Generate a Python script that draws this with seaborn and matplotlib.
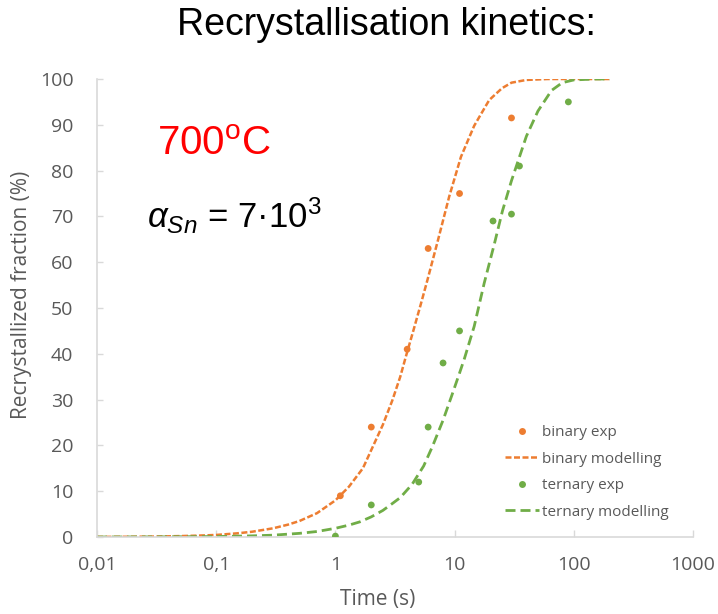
import numpy as np
import pandas as pd
import matplotlib
matplotlib.use("Agg")
import matplotlib.pyplot as plt
import seaborn as sns
from matplotlib.lines import Line2D
from matplotlib.ticker import FixedLocator, FixedFormatter, NullLocator

binary_t = [1.1, 2, 4, 6, 11, 30]
binary_y = [9, 24, 41, 63, 75, 91.5]
ternary_t = [1, 2, 5, 6, 8, 11, 21, 30, 35, 90]
ternary_y = [0.2, 7, 12, 24, 38, 45, 69, 70.5, 81, 95]

# modelling curves, points
binary_model_t = [0.01, 0.02, 0.03, 0.05, 0.07, 0.1, 0.15, 0.2, 0.3, 0.4, 0.5, 0.7, 1,
                  1.3, 1.7, 2, 2.5, 3, 3.5, 3.9, 4.5, 5.2, 5.9, 7.2, 9, 11.3, 14.6,
                  19.5, 25, 30, 40, 60, 100, 200]
binary_model_y = [0.02, 0.06, 0.1, 0.2, 0.3, 0.45, 0.8, 1.15, 1.9, 2.7, 3.5, 5.2, 8,
                  11, 15, 19, 24.5, 29.8, 35, 39.4, 45, 50.8, 56, 64.5, 74.3, 83, 89.8,
                  95.4, 98, 99.2, 99.8, 100, 100, 100]
ternary_model_t = [0.01, 0.03, 0.1, 0.2, 0.3, 0.5, 0.7, 1, 1.3, 1.6, 2, 2.5, 3, 3.5,
                   4.4, 5.5, 6.5, 8, 9.5, 11, 12.1, 14.6, 17.7, 21.6, 25.2, 30, 35, 40,
                   50, 65, 80, 100, 150, 200]
ternary_model_y = [0, 0.02, 0.1, 0.25, 0.4, 0.8, 1.2, 1.9, 2.6, 3.3, 4.4, 5.8, 7.3, 8.6,
                   11.5, 15.5, 19.7, 25.5, 31, 35.8, 39, 46, 55.4, 64.1, 71.2, 77.8, 83,
                   87.5, 93, 97.5, 99.2, 99.8, 100, 100]

x_ticks = [0.01, 0.1, 1, 10, 100, 1000]
x_ticklabels = ["0,01", "0,1", "1", "10", "100", "1000"]
y_ticks = list(range(0, 101, 10))

orange = "#ED7D31"
green = "#70AD47"
grey_txt = "#595959"
grey_ax = "#D9D9D9"

sns.set_theme(style="white")
plt.rcParams['font.family'] = ['Open Sans', 'DejaVu Sans']
plt.rcParams['mathtext.fontset'] = 'custom'
plt.rcParams['mathtext.rm'] = 'Liberation Sans'
plt.rcParams['mathtext.it'] = 'Liberation Sans:italic'

fig = plt.figure(figsize=(7.18, 6.14), dpi=100)
ax = fig.add_axes([0.1351, 0.1254, 0.8301, 0.7459])

bm = pd.DataFrame({"t": binary_model_t, "y": binary_model_y})
tm = pd.DataFrame({"t": ternary_model_t, "y": ternary_model_y})
sns.lineplot(data=bm, x="t", y="y", ax=ax, color=orange, linewidth=1.8)
ax.lines[-1].set_dashes((2.4, 1.0))
sns.lineplot(data=tm, x="t", y="y", ax=ax, color=green, linewidth=2.0)
ax.lines[-1].set_dashes((3.6, 1.8))

be = pd.DataFrame({"t": binary_t, "y": binary_y})
te = pd.DataFrame({"t": ternary_t, "y": ternary_y})
sns.scatterplot(data=be, x="t", y="y", ax=ax, color=orange, s=24, edgecolor="none", zorder=3)
sns.scatterplot(data=te, x="t", y="y", ax=ax, color=green, s=24, edgecolor="none", zorder=3)

ax.set_xscale("log")
ax.set_xlim(0.01, 1000)
ax.set_ylim(0, 100)
ax.xaxis.set_major_locator(FixedLocator(x_ticks))
ax.xaxis.set_major_formatter(FixedFormatter(x_ticklabels))
ax.xaxis.set_minor_locator(NullLocator())
ax.set_yticks(y_ticks)
ax.set_xlabel("")
ax.set_ylabel("")

for s in ["top", "right"]:
    ax.spines[s].set_visible(False)
for s in ["left", "bottom"]:
    ax.spines[s].set_color(grey_ax)
    ax.spines[s].set_linewidth(1.2)
ax.tick_params(axis="y", direction="in", length=4, width=1, color=grey_ax,
               labelsize=14, labelcolor=grey_txt, pad=17, left=True)
ax.tick_params(axis="x", direction="in", length=5, width=1, color=grey_ax,
               labelsize=14, labelcolor=grey_txt, pad=14, bottom=True)

fig.text(22 / 718, 1 - 295 / 614, "Recrystallized fraction (%)", rotation=90,
         ha="center", va="center", fontsize=15, color=grey_txt)
fig.text(378 / 718, 1 - 600 / 614, "Time (s)", ha="center", va="center",
         fontsize=15, color=grey_txt)

fig.text(386 / 718, 1 - 25 / 614, "Recrystallisation kinetics:", ha="center", va="center",
         fontsize=27, family="Liberation Sans", color="black")
fig.text(157 / 718, 1 - 155 / 614, r"700$^{\mathrm{o}}$C", ha="left", va="baseline",
         fontsize=29, family="Liberation Sans", color="red")
fig.text(147 / 718, 1 - 228 / 614, r"$\alpha_{Sn}$ = 7·10$^{3}$", ha="left", va="baseline",
         fontsize=25, family="Liberation Sans", color="black")

handles = [
    Line2D([], [], linestyle="none", marker="o", markersize=5, color=orange, markeredgewidth=0),
    Line2D([], [], color=orange, linewidth=1.8, dashes=(2.4, 1.0)),
    Line2D([], [], linestyle="none", marker="o", markersize=5, color=green, markeredgewidth=0),
    Line2D([], [], color=green, linewidth=2.0, dashes=(3.6, 1.8)),
]
labels = ["binary exp", "binary modelling", "ternary exp", "ternary modelling"]
leg = ax.legend(handles, labels, loc="upper left", bbox_to_anchor=(0.685, 0.244),
                frameon=False, fontsize=11, handlelength=2.2, handletextpad=0.2,
                labelspacing=0.75, borderpad=0, borderaxespad=0)
for t in leg.get_texts():
    t.set_color(grey_txt)

fig.savefig("out.png", dpi=100)
